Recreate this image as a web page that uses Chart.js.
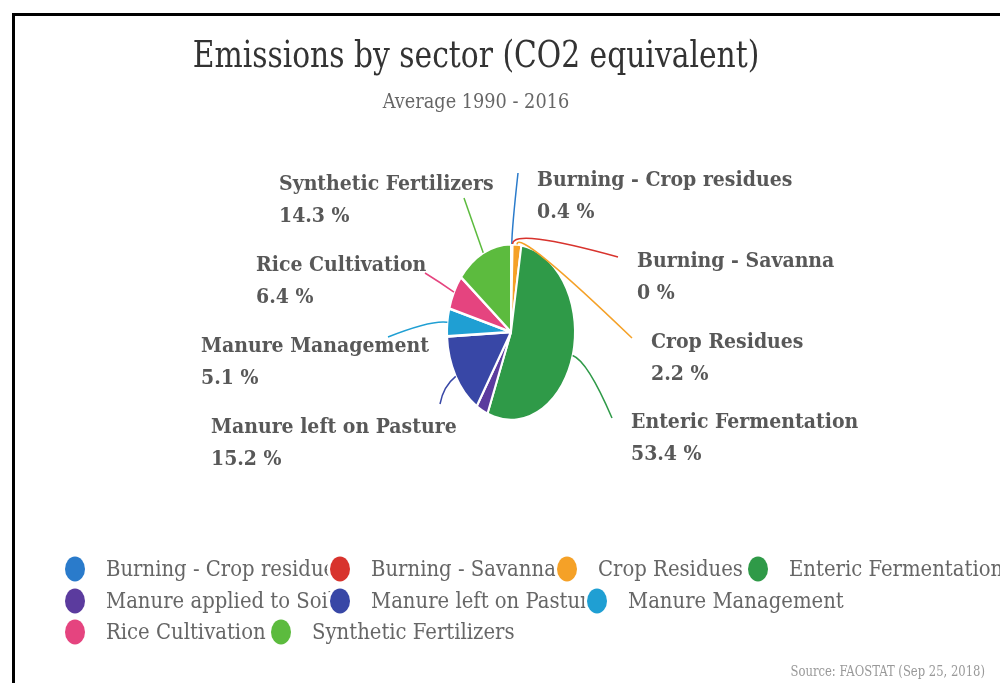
<!DOCTYPE html>
<html>
<head>
<meta charset="utf-8">
<title>Emissions by sector</title>
<script src="https://cdn.jsdelivr.net/npm/chart.js@4.4.0/dist/chart.umd.min.js"></script>
<style>
  html, body { margin: 0; padding: 0; background: #fff; }
  #wrap { position: relative; width: 1000px; height: 683px; }
</style>
</head>
<body>
<div id="wrap"><canvas id="emissionsChart"></canvas></div>
<script>
// data
const sectors = [
    'Burning - Crop residues', 'Burning - Savanna', 'Crop Residues',
    'Enteric Fermentation', 'Manure applied to Soils', 'Manure left on Pasture',
    'Manure Management', 'Rice Cultivation', 'Synthetic Fertilizers'
];
const shares = [0.4, 0, 2.2, 53.4, 3.0, 15.2, 5.1, 6.4, 14.3];
const sliceColors = [
    '#2a7bcb', '#d8332d', '#f5a127', '#2f9a48', '#5b3b9e',
    '#3847a6', '#1f9fd3', '#e5447f', '#5cbb3e'
];
const chartTitle = 'Emissions by sector (CO2 equivalent)';
const chartSubtitle = 'Average 1990 - 2016';
const sourceNote = 'Source: FAOSTAT (Sep 25, 2018)';

// layout bits (not data)
const FONT = '"DejaVu Serif Condensed", "DejaVu Serif", serif';
const STRETCH = 1.375;     // the picture is squashed sideways, so the pie is an upright ellipse
const PIE_CX = 511, PIE_CY = 332, PIE_R = 64;

// where each data label sits (null = no label shown)
const labelLayout = [
    { x: 537, y: 181, endX: 518, endY: 173 },
    { x: 637, y: 262, endX: 618, endY: 257 },
    { x: 651, y: 343, endX: 632, endY: 338 },
    { x: 631, y: 423, endX: 612, endY: 418 },
    null,
    { x: 211, y: 428, endX: 440, endY: 404 },
    { x: 201, y: 347, endX: 388, endY: 337 },
    { x: 256, y: 266, endX: 425, endY: 273 },
    { x: 279, y: 185, endX: 464, endY: 198 }
];
const legendRows = [569, 601, 632];
const legendLayout = [
    { row: 0, x: 75 }, { row: 0, x: 340 }, { row: 0, x: 567 }, { row: 0, x: 758 },
    { row: 1, x: 75 }, { row: 1, x: 340 }, { row: 1, x: 597 },
    { row: 2, x: 75 }, { row: 2, x: 281 }
];

function squeezeText(ctx, text, x, y, align, squeeze) {
    ctx.save();
    ctx.translate(x, y);
    ctx.scale(squeeze, 1);
    ctx.textAlign = align || 'left';
    ctx.fillText(text, 0, 0);
    ctx.restore();
}

// Stretch the pie vertically while its slices are drawn
const ellipsePie = {
    id: 'ellipsePie',
    beforeDatasetsDraw(chart) {
        const arc = chart.getDatasetMeta(0).data[0];
        const ctx = chart.ctx;
        ctx.save();
        ctx.translate(arc.x, arc.y);
        ctx.scale(1, STRETCH);
        ctx.translate(-arc.x, -arc.y);
    },
    afterDatasetsDraw(chart) {
        chart.ctx.restore();
    }
};

// Frame, titles, source note
const decorations = {
    id: 'decorations',
    beforeDraw(chart) {
        const ctx = chart.ctx;
        ctx.save();
        ctx.fillStyle = '#fff';
        ctx.fillRect(0, 0, chart.width, chart.height);
        ctx.strokeStyle = '#000';
        ctx.lineWidth = 3;
        ctx.beginPath();
        ctx.moveTo(13.5, chart.height + 5);
        ctx.lineTo(13.5, 14.5);
        ctx.lineTo(chart.width + 5, 14.5);
        ctx.stroke();
        ctx.restore();
    },
    afterDraw(chart) {
        const ctx = chart.ctx;
        ctx.save();
        ctx.textBaseline = 'middle';
        ctx.fillStyle = '#333';
        ctx.font = '37px ' + FONT;
        squeezeText(ctx, chartTitle, 476, 57, 'center', 0.894);
        ctx.fillStyle = '#666';
        ctx.font = '20px ' + FONT;
        squeezeText(ctx, chartSubtitle, 476, 103, 'center', 0.985);
        ctx.fillStyle = '#999';
        ctx.font = '15px ' + FONT;
        squeezeText(ctx, sourceNote, 985, 672, 'right', 0.86);
        ctx.restore();
    }
};

// Data labels with soft connectors
const sliceLabels = {
    id: 'sliceLabels',
    afterDraw(chart) {
        const ctx = chart.ctx;
        const meta = chart.getDatasetMeta(0);
        ctx.save();
        meta.data.forEach((arc, i) => {
            const lay = labelLayout[i];
            if (!lay) return;
            const mid = (arc.startAngle + arc.endAngle) / 2;
            let nx = Math.cos(mid), ny = Math.sin(mid) * STRETCH;
            const sx = arc.x + arc.outerRadius * nx;
            const sy = arc.y + arc.outerRadius * ny;
            const len = Math.hypot(nx, ny);
            nx /= len; ny /= len;
            ctx.strokeStyle = sliceColors[i];
            ctx.lineWidth = 1.5;
            ctx.beginPath();
            ctx.moveTo(sx, sy);
            ctx.quadraticCurveTo(sx + 16 * nx, sy + 16 * ny, lay.endX, lay.endY);
            ctx.stroke();

            ctx.fillStyle = '#585858';
            ctx.textBaseline = 'middle';
            ctx.font = 'bold 21px ' + FONT;
            squeezeText(ctx, sectors[i], lay.x, lay.y, 'left', 1.0);
            squeezeText(ctx, shares[i] + ' %', lay.x, lay.y + 32, 'left', 1.0);
        });
        ctx.restore();
    }
};

// Legend drawn the way the reference lays it out
const looseLegend = {
    id: 'looseLegend',
    afterDraw(chart) {
        const ctx = chart.ctx;
        ctx.save();
        ctx.textBaseline = 'middle';
        ctx.font = '23px ' + FONT;
        sectors.forEach((name, i) => {
            const pos = legendLayout[i];
            const y = legendRows[pos.row];
            ctx.fillStyle = '#fff';
            ctx.beginPath();
            ctx.ellipse(pos.x, y, 13, 15, 0, 0, Math.PI * 2);
            ctx.fill();
            ctx.fillStyle = sliceColors[i];
            ctx.beginPath();
            ctx.ellipse(pos.x, y, 10, 12.5, 0, 0, Math.PI * 2);
            ctx.fill();
            ctx.fillStyle = '#666';
            squeezeText(ctx, name, pos.x + 31, y + 1, 'left', 0.95);
        });
        ctx.restore();
    }
};

const ctx = document.getElementById('emissionsChart').getContext('2d');
new Chart(ctx, {
    type: 'pie',
    data: {
        labels: sectors,
        datasets: [{
            data: shares,
            backgroundColor: sliceColors,
            borderColor: '#fff',
            borderWidth: 2,
            clip: false
        }]
    },
    options: {
        responsive: true,
        maintainAspectRatio: false,
        animation: false,
        layout: {
            padding: {
                left: PIE_CX - PIE_R - 1,
                right: 1000 - (PIE_CX + PIE_R + 1),
                top: PIE_CY - PIE_R - 1,
                bottom: 683 - (PIE_CY + PIE_R + 1)
            }
        },
        plugins: {
            legend: { display: false },
            title: { display: false },
            tooltip: { enabled: false }
        }
    },
    plugins: [decorations, ellipsePie, sliceLabels, looseLegend]
});
</script>
</body>
</html>
